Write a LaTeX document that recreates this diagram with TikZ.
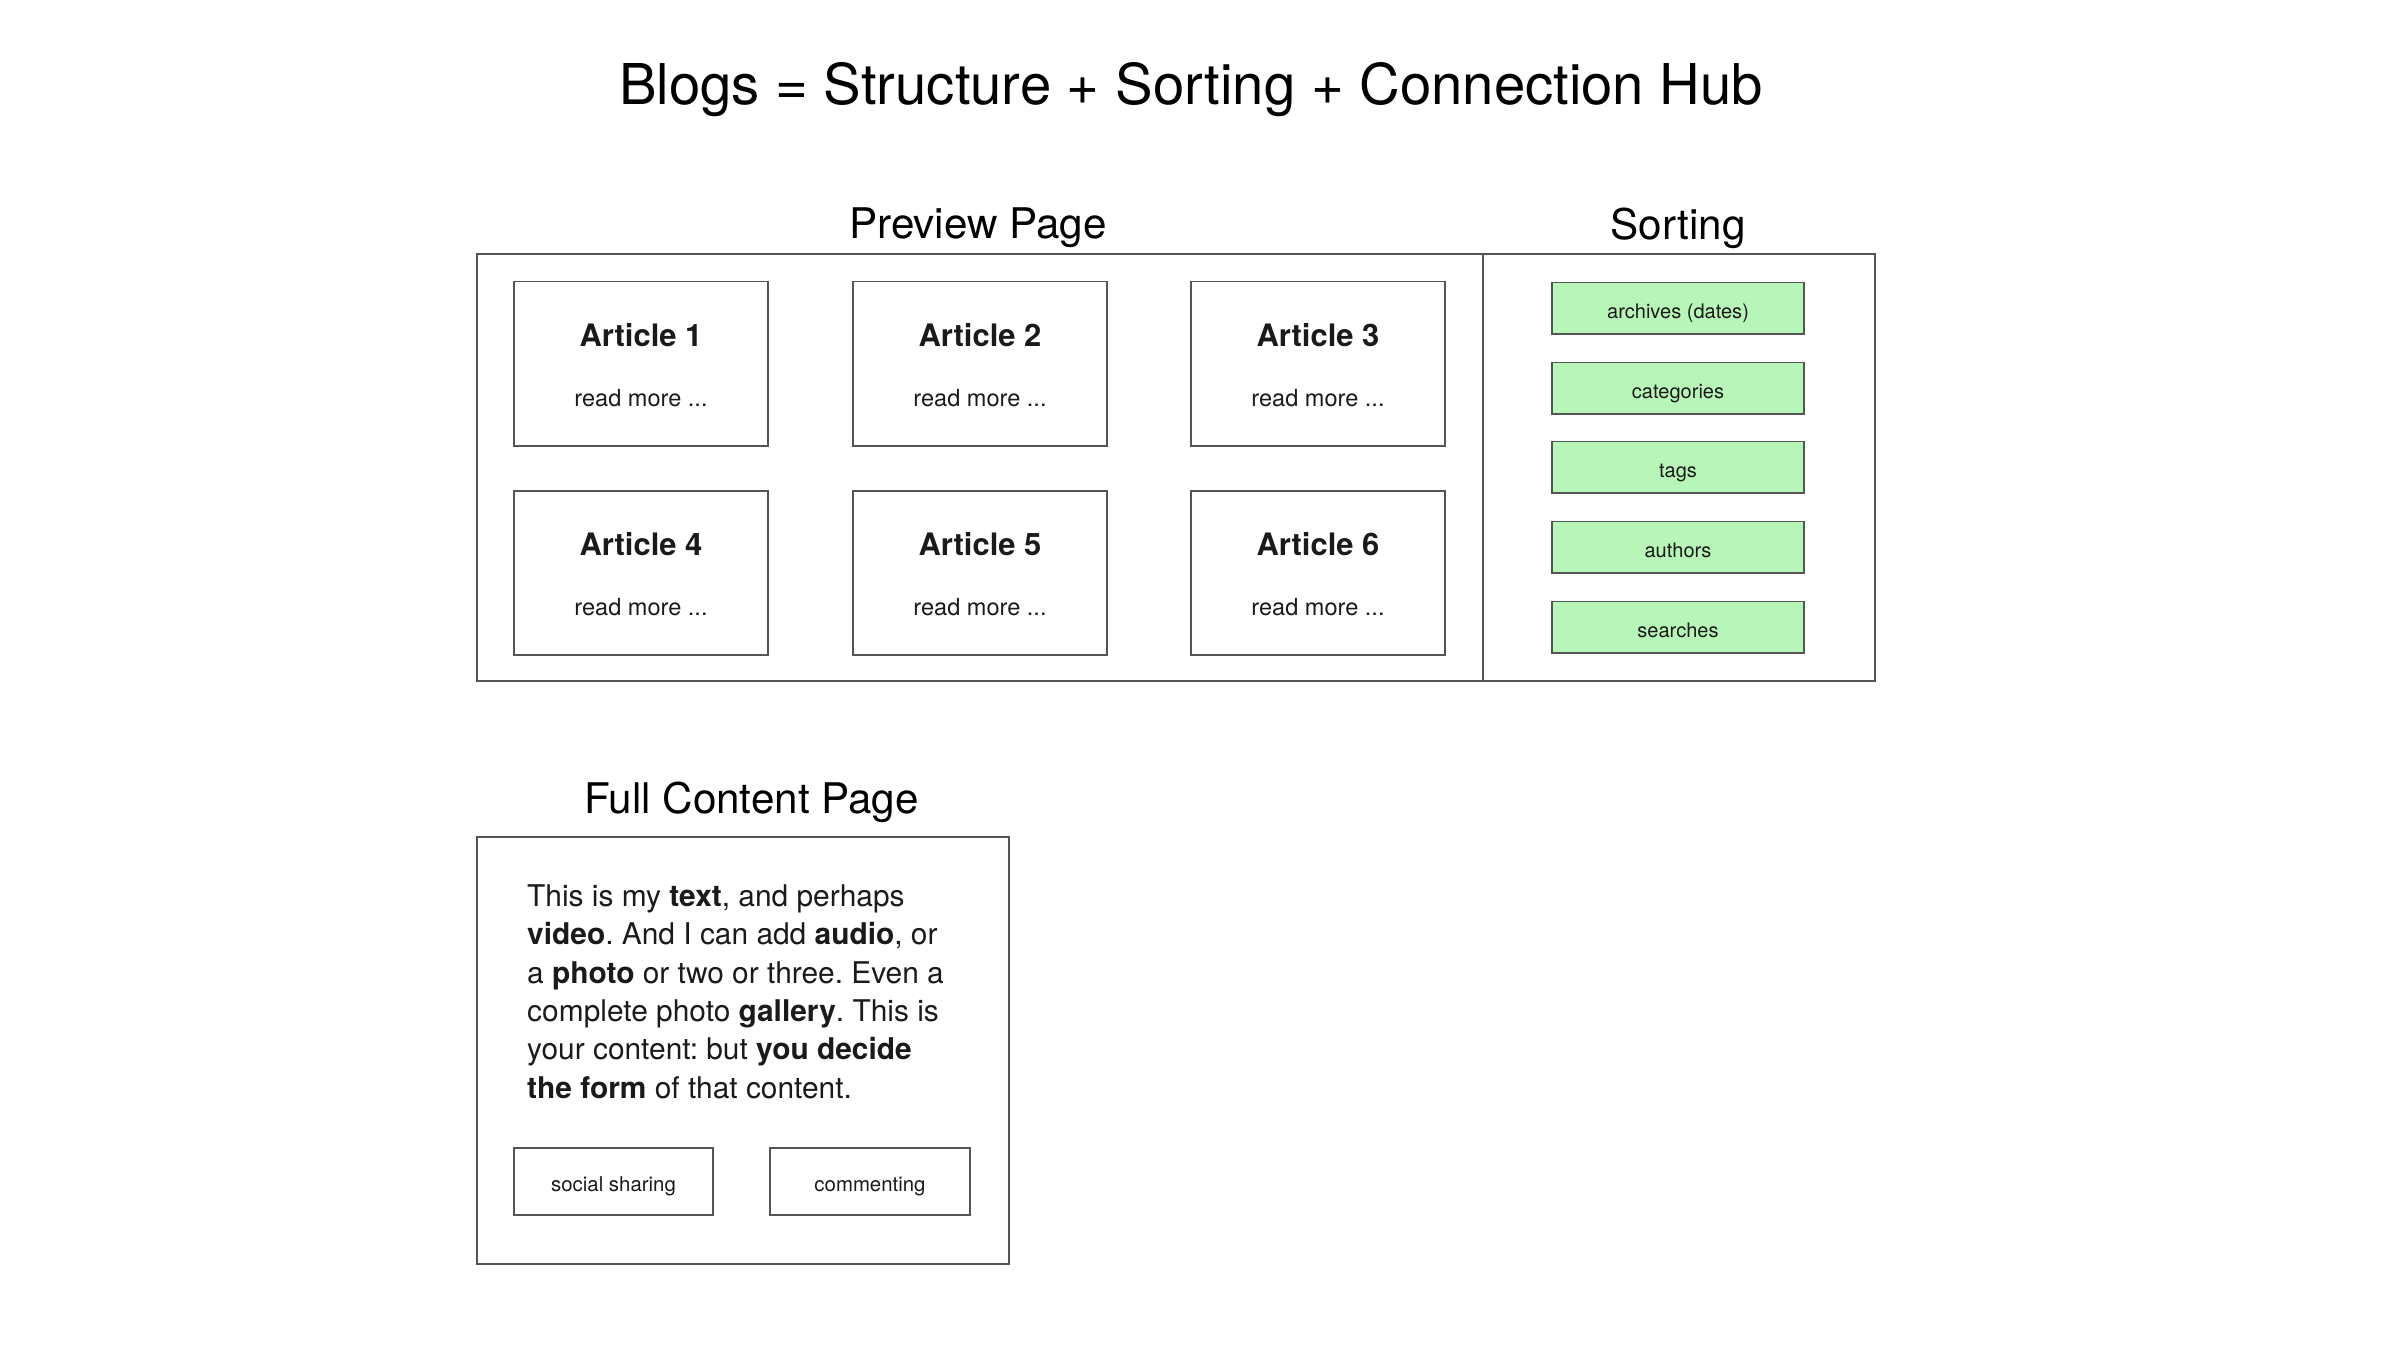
\documentclass[tikz,border=0pt]{standalone}
\usepackage{fontspec}
\setmainfont{TeX Gyre Heros}
\frenchspacing
\definecolor{boxline}{HTML}{555555}
\definecolor{greenfill}{HTML}{B8F5B8}
\definecolor{txt}{HTML}{1A1A1A}
\begin{document}
\begin{tikzpicture}[x=0.01cm,y=-0.01cm,
  frame/.style={draw=boxline, line width=0.55pt, rectangle, inner sep=0pt},
  artbox/.style={frame, minimum width=2.54cm, minimum height=1.64cm},
  sortbox/.style={frame, fill=greenfill, minimum width=2.52cm, minimum height=0.51cm, font=\fontsize{5.7}{7}\selectfont, text=txt, text height=1.55ex, text depth=0.45ex},
  smallbox/.style={frame, minimum width=1.99cm, minimum height=0.67cm, font=\fontsize{5.8}{7}\selectfont, text=txt, text height=1.55ex, text depth=0.45ex},
  heading/.style={font=\fontsize{12}{14}\selectfont, text=black, inner sep=0pt},
  arttitle/.style={font=\bfseries\fontsize{8.8}{10}\selectfont, text=txt, inner sep=0pt},
  readmore/.style={font=\fontsize{6.7}{8}\selectfont, text=txt, inner sep=0pt}]
\useasboundingbox (0,0) rectangle (2400,1350);

\node[inner sep=0pt, font=\fontsize{16}{19}\selectfont] (title) at (1191,90) {Blogs = Structure + Sorting + Connection Hub};

% Preview page
\node[heading] (hprev) at (978,228) {Preview Page};
\node[heading] (hsort) at (1678,228) {Sorting};
\node[frame, minimum width=10.06cm, minimum height=4.27cm] (preview) at (980,467.5) {};
\node[frame, minimum width=3.92cm, minimum height=4.27cm] (sorting) at (1679,467.5) {};

\foreach \n/\x/\y in {1/641/363.5, 2/980/363.5, 3/1318/363.5, 4/641/573, 5/980/573, 6/1318/573}{
  \node[artbox] (a\n) at (\x,\y) {};
  \node[arttitle] (at\n) at ([yshift=0.285cm]a\n.center) {Article \n};
  \node[readmore] (ar\n) at ([yshift=-0.345cm]a\n.center) {read more ...};
}

\node[sortbox] (s1) at (1678,308) {archives (dates)};
\node[sortbox] (s2) at (1678,388) {categories};
\node[sortbox] (s3) at (1678,467) {tags};
\node[sortbox] (s4) at (1678,547) {authors};
\node[sortbox] (s5) at (1678,627) {searches};

% Full content page
\node[heading] (hfull) at (751.5,802) {Full Content Page};
\node[frame, minimum width=5.31cm, minimum height=4.27cm] (full) at (743,1050.5) {};
\node[anchor=north west, inner sep=0pt, align=left, text=txt,
      font=\fontsize{8.5}{10.9}\selectfont] (para) at (526.5,884)
  {This is my \textbf{text}, and perhaps\\
   \textbf{video}. And I can add \textbf{audio}, or\\
   a \textbf{photo} or two or three. Even a\\
   complete photo \textbf{gallery}. This is\\
   your content: but \textbf{you decide}\\
   \textbf{the form} of that content.};
\node[smallbox] (social) at (613.5,1181.5) {social sharing};
\node[smallbox, minimum width=2.00cm] (comment) at (870,1181.5) {commenting};
\end{tikzpicture}
\end{document}
